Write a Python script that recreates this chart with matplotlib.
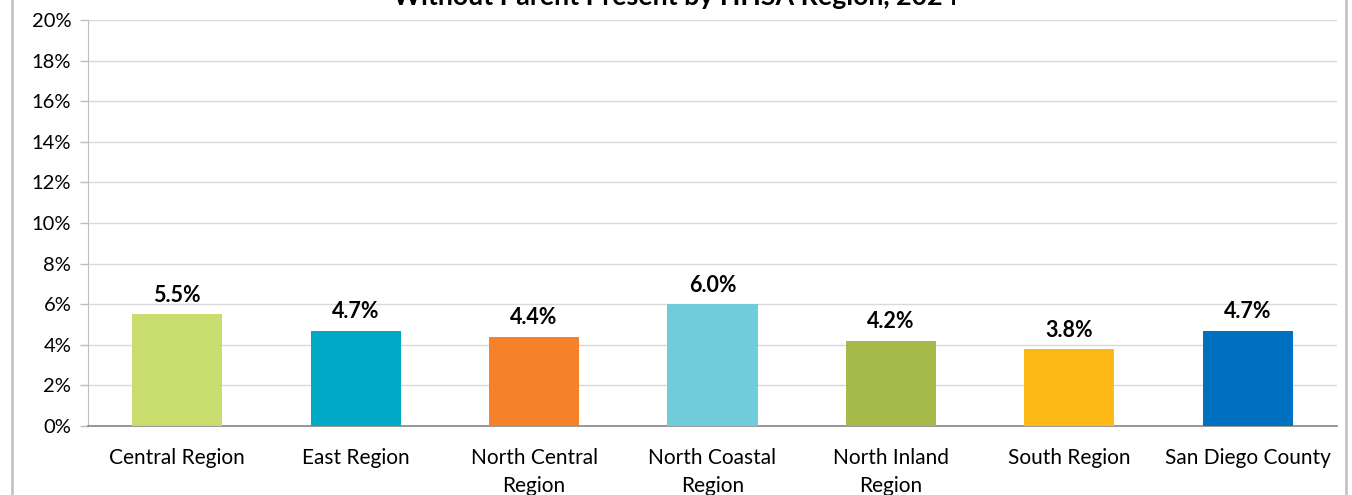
import matplotlib.pyplot as plt
from matplotlib.lines import Line2D

plt.rcParams['font.family'] = ['Lato', 'DejaVu Sans']

# data
regions = ['Central Region', 'East Region', 'North Central\nRegion', 'North Coastal\nRegion',
           'North Inland\nRegion', 'South Region', 'San Diego County']
values = [5.5, 4.7, 4.4, 6.0, 4.2, 3.8, 4.7]
colors = ['#C9DD6E', '#00A9C6', '#F5822A', '#70CBDB', '#A6BA49', '#FDB918', '#0070C0']
yticks = [0, 2, 4, 6, 8, 10, 12, 14, 16, 18, 20]

fig = plt.figure(figsize=(13.52, 4.95), dpi=100)
W, H = 1352, 495
ax = fig.add_axes([88 / W, 1 - 426 / H, (1337 - 88) / W, (426 - 20) / H])

x = list(range(len(regions)))
ax.bar(x, values, width=0.505, color=colors, zorder=3)

# data labels
for xi, v in zip(x, values):
    ax.annotate(f'{v:.1f}%', (xi, v), xytext=(0, 6), textcoords='offset points',
                ha='center', va='bottom', fontsize=15.5, fontweight='bold')

ax.set_xlim(-0.5, len(regions) - 0.5)
ax.set_ylim(0, 20)
ax.set_yticks(yticks)
ax.set_yticklabels([f'{t}%' for t in yticks], fontsize=14.5)
ax.set_xticks(x)
ax.set_xticklabels(regions, fontsize=15, linespacing=1.5)
ax.tick_params(axis='x', length=0, pad=16)
ax.tick_params(axis='y', length=6, width=1, color='#bfbfbf', pad=6)

# grid and spines
ax.grid(axis='y', color='#d9d9d9', linewidth=1, zorder=0)
for s in ['top', 'right']:
    ax.spines[s].set_visible(False)
ax.spines['left'].set_color('#bfbfbf')
ax.spines['bottom'].set_color('#868686')
ax.spines['bottom'].set_linewidth(1.2)

# title (partly cut off at the top of the image, as in the reference)
fig.text(0.5, 1 - 5 / H, 'Without Parent Present by HHSA Region, 2024', ha='center',
         va='baseline', fontsize=19.3, fontweight='bold')

# chart area border
fig.add_artist(Line2D([12 / W, 12 / W], [0, 1], color='#bfbfbf', linewidth=1.8))
fig.add_artist(Line2D([1346 / W, 1346 / W], [0, 1], color='#bfbfbf', linewidth=1.8))

fig.savefig('out.png', dpi=100)
